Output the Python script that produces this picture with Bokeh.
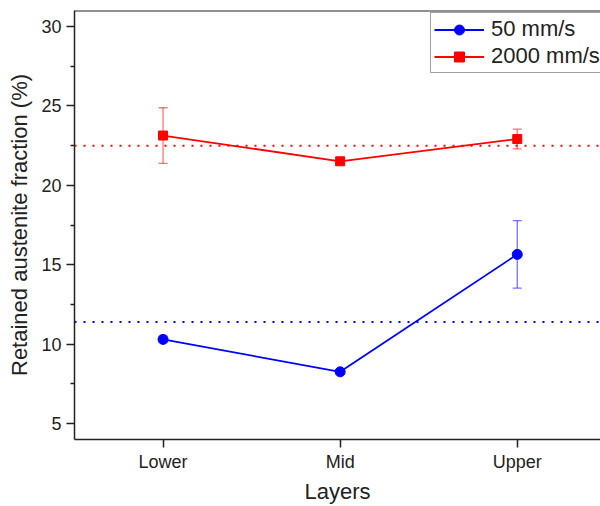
from bokeh.plotting import figure
from bokeh.models import (Range1d, FixedTicker, Span, Whisker, TeeHead,
                          ColumnDataSource, Legend, LegendItem)
from bokeh.embed import file_html
from bokeh.resources import INLINE

layers = ["Lower", "Mid", "Upper"]
speed_50 = [10.3, 8.26, 15.65]
err_50 = [0.2, 0.15, 2.12]
speed_2000 = [23.13, 21.51, 22.91]
err_2000 = [1.75, 0.15, 0.62]
mean_50 = 11.4
mean_2000 = 22.48
y_ticks = [5, 10, 15, 20, 25, 30]

x_pos = list(range(1, len(layers) + 1))
Y_MIN, Y_MAX = 4, 31
FONT = "Liberation Sans"
BLUE = "#0000FF"
RED = "#FF0000"
DARK = "#222222"

p = figure(width=600, height=506, x_range=Range1d(0.5, 3.47), y_range=Range1d(Y_MIN, Y_MAX),
           output_backend="svg", toolbar_location=None,
           min_border_left=74, min_border_right=0, min_border_top=10, min_border_bottom=66)
p.outline_line_color = None
p.grid.visible = False
p.background_fill_color = "white"
p.border_fill_color = "white"

for ax in (p.xaxis[0], p.yaxis[0]):
    ax.axis_line_width = 1.5
    ax.axis_line_color = DARK
    ax.major_tick_line_width = 1.5
    ax.major_tick_line_color = DARK
    ax.minor_tick_line_width = 1.5
    ax.minor_tick_line_color = DARK
    ax.major_tick_in = 0
    ax.major_tick_out = 8
    ax.minor_tick_in = 0
    ax.minor_tick_out = 4
    ax.major_label_text_font = FONT
    ax.major_label_text_font_size = "18px"
    ax.major_label_text_color = DARK
    ax.axis_label_text_font = FONT
    ax.axis_label_text_font_size = "22px"
    ax.axis_label_text_font_style = "normal"
    ax.axis_label_text_color = DARK

p.xaxis.ticker = FixedTicker(ticks=x_pos)
p.xaxis.major_label_overrides = {x: name for x, name in zip(x_pos, layers)}
p.xaxis.axis_label = "Layers"
p.xaxis.major_label_standoff = 4
p.xaxis.axis_label_standoff = 4

p.yaxis.ticker = FixedTicker(ticks=y_ticks, minor_ticks=[t + 2.5 for t in y_ticks])
p.yaxis.axis_label = "Retained austenite fraction (%)"
p.yaxis.major_label_standoff = 5
p.yaxis.axis_label_standoff = 6

# top frame line
p.add_layout(Span(location=Y_MAX, dimension="width", line_color=DARK, line_width=2))

p.add_layout(Span(location=mean_2000, dimension="width", line_color=RED,
                  line_dash="2 7", line_width=2))
p.add_layout(Span(location=mean_50, dimension="width", line_color=BLUE,
                  line_dash="2 7", line_width=2))

src50 = ColumnDataSource(dict(x=x_pos, y=speed_50,
                              upper=[v + e for v, e in zip(speed_50, err_50)],
                              lower=[v - e for v, e in zip(speed_50, err_50)]))
src2000 = ColumnDataSource(dict(x=x_pos, y=speed_2000,
                                upper=[v + e for v, e in zip(speed_2000, err_2000)],
                                lower=[v - e for v, e in zip(speed_2000, err_2000)]))

for src, col in ((src50, BLUE), (src2000, RED)):
    p.add_layout(Whisker(source=src, base="x", upper="upper", lower="lower",
                         line_color=col, line_alpha=0.55, line_width=1.3,
                         upper_head=TeeHead(size=9, line_color=col, line_alpha=0.55, line_width=1.3),
                         lower_head=TeeHead(size=9, line_color=col, line_alpha=0.55, line_width=1.3)))

l1 = p.line("x", "y", source=src50, line_color=BLUE, line_width=1.8)
m1 = p.scatter("x", "y", source=src50, marker="circle", size=10, fill_color=BLUE, line_color=BLUE)
l2 = p.line("x", "y", source=src2000, line_color=RED, line_width=1.8)
m2 = p.scatter("x", "y", source=src2000, marker="square", size=9, fill_color=RED, line_color=RED)

legend = Legend(items=[LegendItem(label="50 mm/s", renderers=[l1, m1]),
                       LegendItem(label="2000 mm/s", renderers=[l2, m2])],
                location=(356, 366), orientation="vertical",
                label_text_font=FONT, label_text_font_size="22px", label_text_color=DARK,
                glyph_width=50, glyph_height=25, label_standoff=7,
                padding=3, spacing=1, margin=0,
                border_line_color="#444444", border_line_width=1.5,
                background_fill_color="white", background_fill_alpha=1.0)
p.add_layout(legend)

open("out.html", "w").write(file_html(p, INLINE))
